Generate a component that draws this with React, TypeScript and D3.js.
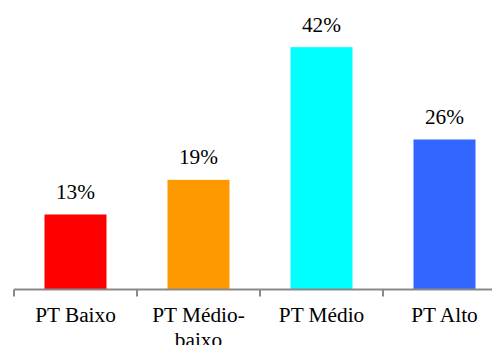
import React from "react";
import * as d3 from "d3";

const categories: string[][] = [["PT Baixo"], ["PT Médio-", "baixo"], ["PT Médio"], ["PT Alto"]];
const values: number[] = [13, 19, 42, 26];
const colors: string[] = ["#ff0000", "#ff9900", "#00ffff", "#3366ff"];

const W = 492;
const H = 345;
const FONT = "Liberation Serif";

export default function App() {
  const keys = categories.map((c) => c.join(" "));
  const x = d3.scaleBand<string>().domain(keys).range([14, 506]).paddingInner(0).paddingOuter(0);
  const y = d3.scaleLinear().domain([0, 50]).range([289.5, 1]);
  const barW = 62;
  const step = x.step();

  return (
    <svg
      width={W}
      height={H}
      style={{ position: "absolute", left: 0, top: 0, display: "block", fontFamily: FONT }}
    >
      {values.map((v, i) => {
        const cx = (x(keys[i]) as number) + step / 2;
        return (
          <g key={keys[i]}>
            <rect x={cx - barW / 2} y={y(v)} width={barW} height={y(0) - y(v)} fill={colors[i]} />
            <text x={cx} y={y(v) - 15.5} textAnchor="middle" fontSize={21.3} fill="#000">
              {v}%
            </text>
          </g>
        );
      })}
      <line x1={14} x2={W} y1={y(0)} y2={y(0)} stroke="#898989" strokeWidth={2} />
      {keys.map((k) => (
        <line
          key={"t" + k}
          x1={x(k) as number}
          x2={x(k) as number}
          y1={y(0)}
          y2={y(0) + 7}
          stroke="#898989"
          strokeWidth={2}
        />
      ))}
      {categories.map((lines, i) => {
        const cx = (x(keys[i]) as number) + step / 2;
        return (
          <text key={"c" + i} x={cx} y={322} textAnchor="middle" fontSize={21.3} fill="#000">
            {lines.map((ln, j) => (
              <tspan key={j} x={cx} dy={j === 0 ? 0 : 25}>
                {ln}
              </tspan>
            ))}
          </text>
        );
      })}
    </svg>
  );
}
